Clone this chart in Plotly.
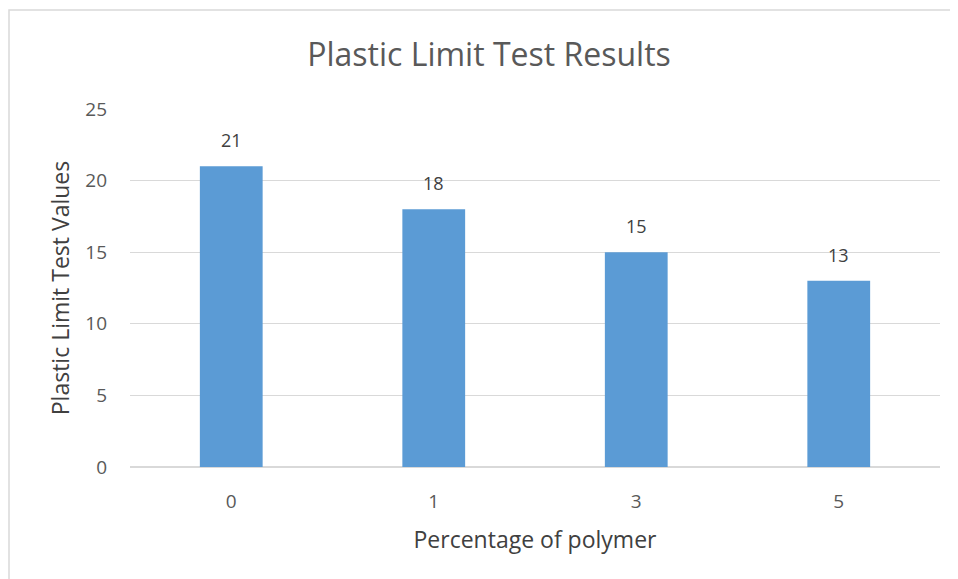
import plotly.graph_objects as go

categories = ["0", "1", "3", "5"]
values = [21, 18, 15, 13]
y_ticks = [0, 5, 10, 15, 20, 25]

# page body has an 8px margin; figure sized/positioned to compensate
W, H = 950, 571
L, R, T, B = 122, 18, 101, 112
pw, ph = W - L - R, H - T - B

fig = go.Figure(go.Bar(
    x=categories, y=values,
    marker=dict(color="#5B9BD5", line=dict(width=0)),
    hoverinfo="x+y",
))

annotations = [
    dict(x=i, y=v, xref="x", yref="y", text=str(v), showarrow=False,
         yanchor="bottom", yshift=12,
         font=dict(family="Open Sans", size=18, color="#404040"))
    for i, v in enumerate(values)
]

fig.update_layout(
    width=W, height=H,
    margin=dict(l=L, r=R, t=T, b=B),
    paper_bgcolor="white", plot_bgcolor="white",
    bargap=0.69,
    showlegend=False,
    title=dict(text="Plastic Limit Test Results", x=481 / W, xanchor="center",
               y=1 - 47 / H, yanchor="middle",
               font=dict(family="Open Sans", size=32, color="#595959")),
    font=dict(family="Open Sans", color="#595959"),
    xaxis=dict(type="category", categoryorder="array", categoryarray=categories,
               range=[-0.5, len(categories) - 0.5],
               showgrid=False, showline=False, ticks="",
               tickfont=dict(size=19, color="#595959"), ticklabelstandoff=21,
               title=dict(text="Percentage of polymer", font=dict(size=23, color="#404040"), standoff=18)),
    yaxis=dict(range=[0, 25], tickvals=y_ticks, showgrid=True, gridcolor="#D9D9D9", gridwidth=1,
               zeroline=True, zerolinecolor="#D9D9D9", zerolinewidth=1.5,
               showline=False, ticks="",
               tickfont=dict(size=19, color="#595959"), ticklabelstandoff=22,
               title=dict(text="Plastic Limit Test Values", font=dict(size=23, color="#404040"), standoff=9)),
    annotations=annotations,
    shapes=[dict(type="rect", xref="paper", yref="paper",
                 x0=(1 - L) / pw, x1=(W + 10 - L) / pw,
                 y0=(H - B - (H + 10)) / ph, y1=(H - B - 2) / ph,
                 line=dict(color="#D9D9D9", width=1.5), fillcolor="rgba(0,0,0,0)", layer="below")],
)

fig.write_html("out.html")
